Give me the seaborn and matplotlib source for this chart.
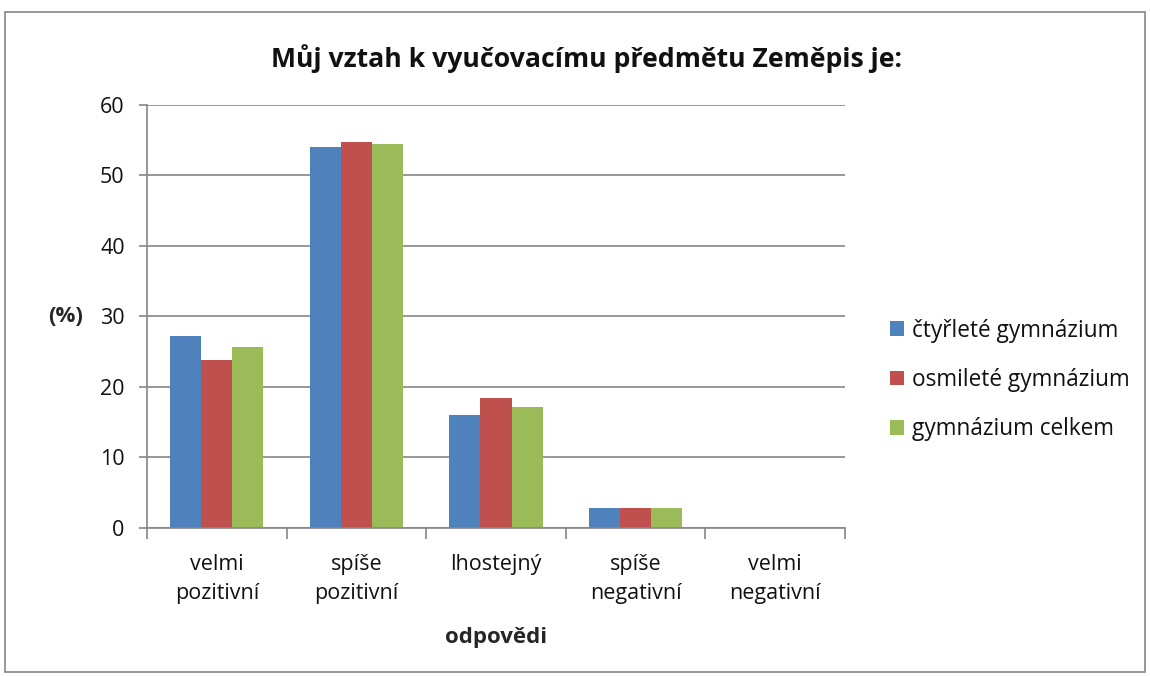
import numpy as np
import pandas as pd
import matplotlib
matplotlib.use('Agg')
import matplotlib.pyplot as plt
from matplotlib.patches import Rectangle
from matplotlib.ticker import FixedLocator
import seaborn as sns

# ==================== DATA ====================
categories = ['velmi\npozitivní', 'spíše\npozitivní', 'lhostejný', 'spíše\nnegativní', 'velmi\nnegativní']
series_names = ['čtyřleté gymnázium', 'osmileté gymnázium', 'gymnázium celkem']
ctyrlete = [27.2, 54.0, 16.0, 2.8, 0.0]
osmilete = [23.8, 54.8, 18.5, 2.8, 0.0]
celkem = [25.6, 54.4, 17.2, 2.8, 0.0]
colors = ['#4F81BD', '#C0504D', '#9BBB59']

df = pd.DataFrame({
    'odpoved': categories * 3,
    'skupina': np.repeat(series_names, len(categories)),
    'procenta': ctyrlete + osmilete + celkem,
})

sns.set_style('white')
plt.rcParams['font.family'] = ['Open Sans', 'DejaVu Sans']
plt.rcParams['text.color'] = '#111111'

fig = plt.figure(figsize=(11.5, 6.77), dpi=100)
ax = fig.add_axes([0.1278, 0.2201, 0.607, 0.6249])

sns.barplot(data=df, x='odpoved', y='procenta', hue='skupina', palette=colors,
            width=0.667, ax=ax, saturation=1, edgecolor='none', linewidth=0)

ax.set_ylim(0, 60)
ax.set_xlim(-0.5, len(categories) - 0.5)
ax.set_yticks(np.arange(0, 61, 10))
ax.yaxis.grid(True, color='#868686', linewidth=1.2)
ax.set_axisbelow(True)
for s in ['top', 'right']:
    ax.spines[s].set_visible(False)
for s in ['left', 'bottom']:
    ax.spines[s].set_color('#868686')
    ax.spines[s].set_linewidth(1.2)

# ticks between categories
ax.xaxis.set_minor_locator(FixedLocator(np.arange(-0.5, len(categories), 1.0)))
ax.tick_params(axis='x', which='major', length=0, pad=19, labelsize=15.5, labelcolor='#111111')
ax.tick_params(axis='x', which='minor', length=8, width=1.2, color='#868686', direction='out', bottom=True)
ax.tick_params(axis='y', length=6, width=1.2, color='#868686', direction='out', left=True,
               labelsize=15.5, pad=10, labelcolor='#111111')
for t in ax.get_xticklabels():
    t.set_linespacing(1.45)

ax.set_xlabel('odpovědi', fontsize=16, fontweight='bold', va='center')
ax.xaxis.set_label_coords(0.5, -0.258)
ax.set_ylabel('(%)', fontsize=16, fontweight='bold', rotation=0, ha='center', va='center')
ax.yaxis.set_label_coords(-0.117, 0.5)

fig.text(0.51, 0.914, 'Můj vztah k vyučovacímu předmětu Zeměpis je:', fontsize=19.2,
         fontweight='bold', ha='center', va='center')

leg = ax.legend(loc='center left', bbox_to_anchor=(1.064, 0.35), frameon=False, fontsize=16.3,
                handlelength=0.62, handleheight=0.62, handletextpad=0.35, labelspacing=1.12,
                borderaxespad=0, borderpad=0)

# outer chart border
fig.patches.append(Rectangle((0.004, 0.007), 0.992, 0.975, transform=fig.transFigure,
                             fill=False, edgecolor='#868686', linewidth=1.2))

fig.savefig('out.png', dpi=100)
